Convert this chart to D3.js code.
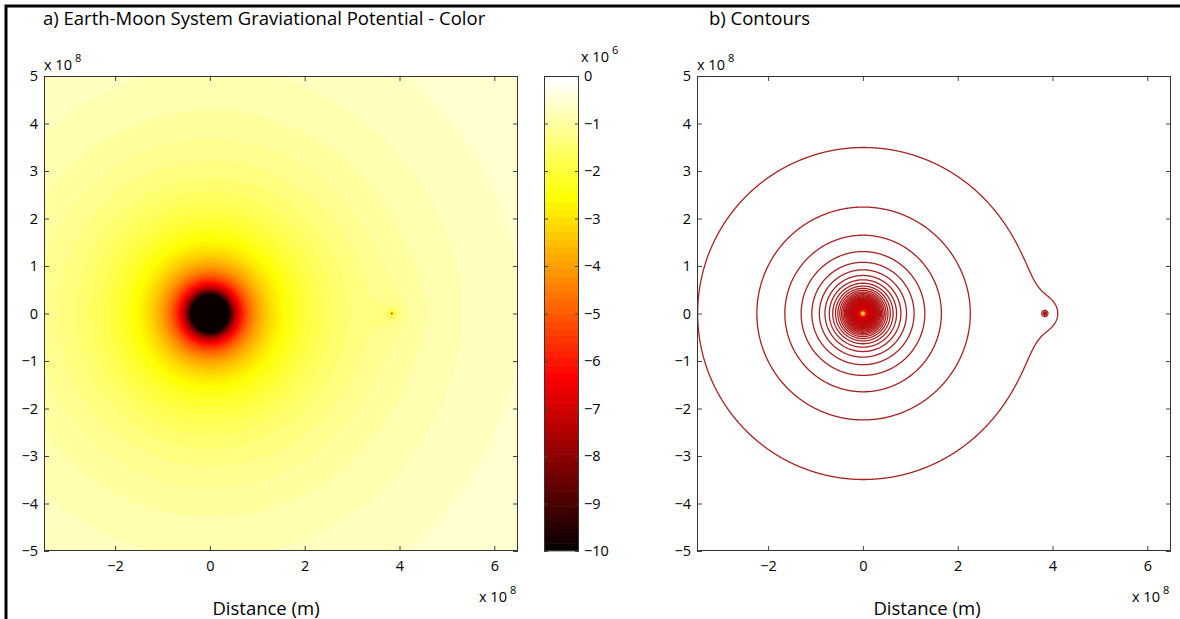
<!DOCTYPE html>
<html><head><meta charset="utf-8">
<script src="https://cdn.jsdelivr.net/npm/d3@7"></script>
<style>
html,body{margin:0;padding:0;background:#fff;}
svg{display:block;font-family:"Open Sans",sans-serif;}
</style></head><body>
<svg id="chart" width="1180" height="619"></svg>
<script>
// ---------------- data ----------------
const bodyNames = ["Earth", "Moon"];
const bodyX = [0, 3.84e8];            // m
const bodyY = [0, 0];                 // m
const bodyGM = [3.986e14, 4.90e12];   // m^3 s^-2
const xDomain = [-3.5e8, 6.5e8];
const yDomain = [-5e8, 5e8];
const xTickValues = [-2e8, 0, 2e8, 4e8, 6e8];
const xTickLabels = ["−2", "0", "2", "4", "6"];
const yTickValues = [5e8, 4e8, 3e8, 2e8, 1e8, 0, -1e8, -2e8, -3e8, -4e8, -5e8];
const yTickLabels = ["5", "4", "3", "2", "1", "0", "−1", "−2", "−3", "−4", "−5"];
const colorDomain = [-10e6, 0];
const cbTickValues = [0, -1e6, -2e6, -3e6, -4e6, -5e6, -6e6, -7e6, -8e6, -9e6, -10e6];
const cbTickLabels = ["0", "−1", "−2", "−3", "−4", "−5", "−6", "−7", "−8", "−9", "−10"];
// contour levels, units of 1e6 J/kg
const contourLevels = [
  -1.15, -1.79, -2.43, -3.07, -3.71, -4.35, -4.99, -5.63, -6.27, -6.91,
  -7.55, -8.19, -8.83, -9.47, -10.11, -10.75, -11.39, -12.03, -12.67, -13.31,
  -13.95, -14.59, -15.23, -15.87, -16.51, -17.15, -17.79, -18.43, -19.07, -19.71,
  -20.35, -20.99, -21.63, -22.27, -22.91, -23.55, -24.19, -24.83, -25.47, -26.11,
  -26.75, -27.39, -28.03, -28.67, -29.31, -29.95, -30.59, -31.23, -31.87, -32.51,
  -33.15, -33.79, -34.43, -35.07, -35.71, -36.35, -36.99, -37.63, -38.27, -38.91,
  -39.55, -40.19, -40.83, -41.47, -42.11, -42.75, -43.39, -44.03, -44.67, -45.31,
  -45.95, -46.59, -47.23, -47.87, -48.51, -49.15, -49.79, -50.43, -51.07, -51.71,
  -52.35, -52.99, -53.63, -54.27, -54.91, -55.55, -56.19, -56.83, -57.47, -58.11,
  -58.75, -59.39, -60.03
];
const coreLevels = [-70, -80, -90, -100, -120, -150, -200];
const titles = ["a) Earth-Moon System Graviational Potential - Color", "b) Contours"];
const xLabelText = "Distance (m)";
const axisExponent = "8";
const colorExponent = "6";

// ---------------- helpers ----------------
function potential(x, y) {
  let v = 0;
  for (let k = 0; k < bodyGM.length; k++) {
    const dx = x - bodyX[k], dy = y - bodyY[k];
    v -= bodyGM[k] / Math.sqrt(dx * dx + dy * dy);
  }
  return v;
}
// MATLAB hot(64)
const hot64 = d3.range(64).map(i => {
  const n1 = 24, n2 = 24, n3 = 16;
  const r = i < n1 ? (i + 1) / n1 : 1;
  const g = i < n1 ? 0 : (i < n1 + n2 ? (i - n1 + 1) / n2 : 1);
  const b = i < n1 + n2 ? 0 : (i - n1 - n2 + 1) / n3;
  return d3.rgb(Math.round(r * 255), Math.round(g * 255), Math.round(b * 255));
});
const colorQ = d3.scaleQuantize().domain(colorDomain).range(hot64);

const svg = d3.select("#chart");
const FONT = 14.5;
const BIG = 18.5;

// page frame (left + top black rule)
svg.append("path").attr("d", "M6,619V6H1180").attr("fill", "none")
  .attr("stroke", "#000").attr("stroke-width", 3);

function exponentLabel(g, x, y, exp) {
  const t = g.append("text").attr("x", x).attr("y", y).attr("font-size", FONT).attr("fill", "#000");
  t.append("tspan").text("x 10");
  t.append("tspan").attr("dx", 3).attr("dy", -8).attr("font-size", 11).text(exp);
  return t;
}

function drawAxes(p, xS, yS) {
  const g = svg.append("g");
  const tl = 5;
  g.append("g").attr("transform", `translate(0,${p.y + p.h})`)
    .call(d3.axisBottom(xS).tickValues(xTickValues).tickFormat((d, i) => xTickLabels[i]).tickSizeInner(-tl).tickSizeOuter(0).tickPadding(10));
  g.append("g").attr("transform", `translate(0,${p.y})`)
    .call(d3.axisTop(xS).tickValues(xTickValues).tickFormat("").tickSizeInner(-tl).tickSizeOuter(0));
  g.append("g").attr("transform", `translate(${p.x},0)`)
    .call(d3.axisLeft(yS).tickValues(yTickValues).tickFormat((d, i) => yTickLabels[i]).tickSizeInner(-tl).tickSizeOuter(0).tickPadding(6));
  g.append("g").attr("transform", `translate(${p.x + p.w},0)`)
    .call(d3.axisRight(yS).tickValues(yTickValues).tickFormat("").tickSizeInner(-tl).tickSizeOuter(0));
  g.selectAll(".domain").remove();
  g.selectAll(".tick line").attr("stroke", "#444");
  g.selectAll(".tick text").attr("font-size", FONT).attr("font-family", "Open Sans").attr("fill", "#000");
  g.append("rect").attr("x", p.x + 0.5).attr("y", p.y + 0.5).attr("width", p.w - 1).attr("height", p.h - 1)
    .attr("fill", "none").attr("stroke", "#333").attr("stroke-width", 1);
  svg.append("text").attr("x", p.titleX).attr("y", 25).attr("font-size", BIG).text(p.title);
  exponentLabel(svg, p.x, 70, axisExponent);
  exponentLabel(svg, p.x + p.w - 39, 602, axisExponent);
  svg.append("text").attr("x", p.labelX).attr("y", 615).attr("text-anchor", "middle")
    .attr("font-size", BIG).text(xLabelText);
}

const panels = [
  {x: 44, y: 76, w: 474, h: 475, title: titles[0], titleX: 43, labelX: 266},
  {x: 697, y: 76, w: 474, h: 475, title: titles[1], titleX: 709, labelX: 927}
];

// ---------------- panel a: colour image ----------------
{
  const p = panels[0];
  const xS = d3.scaleLinear().domain(xDomain).range([p.x, p.x + p.w]);
  const yS = d3.scaleLinear().domain(yDomain).range([p.y + p.h, p.y]);
  const cv = document.createElement("canvas");
  cv.width = p.w; cv.height = p.h;
  const ctx = cv.getContext("2d");
  const img = ctx.createImageData(p.w, p.h);
  for (let j = 0; j < p.h; j++) {
    const yv = yS.invert(p.y + j + 0.5);
    for (let i = 0; i < p.w; i++) {
      const xv = xS.invert(p.x + i + 0.5);
      const c = colorQ(potential(xv, yv));
      const o = (j * p.w + i) * 4;
      img.data[o] = c.r; img.data[o + 1] = c.g; img.data[o + 2] = c.b; img.data[o + 3] = 255;
    }
  }
  ctx.putImageData(img, 0, 0);
  svg.append("image").attr("x", p.x).attr("y", p.y).attr("width", p.w).attr("height", p.h)
    .attr("preserveAspectRatio", "none").attr("href", cv.toDataURL());
  drawAxes(p, xS, yS);

  // colour bar
  const cb = {x: 544, y: 76, w: 35, h: 475};
  const yC = d3.scaleLinear().domain(colorDomain).range([cb.y + cb.h, cb.y]);
  const step = (colorDomain[1] - colorDomain[0]) / hot64.length;
  svg.append("g").selectAll("rect").data(hot64).join("rect")
    .attr("x", cb.x).attr("width", cb.w)
    .attr("y", (c, i) => yC(colorDomain[0] + (i + 1) * step) - 0.3)
    .attr("height", (c, i) => yC(colorDomain[0] + i * step) - yC(colorDomain[0] + (i + 1) * step) + 0.6)
    .attr("fill", c => c);
  const gc = svg.append("g");
  gc.append("g").attr("transform", `translate(${cb.x + cb.w},0)`)
    .call(d3.axisRight(yC).tickValues(cbTickValues).tickFormat((d, i) => cbTickLabels[i]).tickSizeInner(-4).tickSizeOuter(0).tickPadding(5));
  gc.append("g").attr("transform", `translate(${cb.x},0)`)
    .call(d3.axisLeft(yC).tickValues(cbTickValues).tickFormat("").tickSizeInner(-4).tickSizeOuter(0));
  gc.selectAll(".domain").remove();
  gc.selectAll(".tick line").attr("stroke", "#444");
  gc.selectAll(".tick text").attr("font-size", FONT).attr("font-family", "Open Sans").attr("fill", "#000");
  gc.append("rect").attr("x", cb.x + 0.5).attr("y", cb.y + 0.5).attr("width", cb.w - 1).attr("height", cb.h - 1)
    .attr("fill", "none").attr("stroke", "#333");
  exponentLabel(svg, cb.x + cb.w + 2, 62, colorExponent);
}

// ---------------- panel b: contours ----------------
{
  const p = panels[1];
  const xS = d3.scaleLinear().domain(xDomain).range([p.x, p.x + p.w]);
  const yS = d3.scaleLinear().domain(yDomain).range([p.y + p.h, p.y]);
  const k = 1.5;
  const nx = Math.round(p.w * k), ny = Math.round(p.h * k);
  const gdx = (xDomain[1] - xDomain[0]) / nx, gdy = (yDomain[1] - yDomain[0]) / ny;
  const grid = new Float64Array(nx * ny);
  for (let j = 0; j < ny; j++) {
    const yv = yDomain[1] - (j + 0.5) * gdy;
    for (let i = 0; i < nx; i++) {
      grid[j * nx + i] = -potential(xDomain[0] + (i + 0.5) * gdx, yv) / 1e6;
    }
  }
  const levels = contourLevels.concat(coreLevels);
  const cont = d3.contours().size([nx, ny]).thresholds(levels.map(l => -l))(grid);
  const proj = d3.geoTransform({
    point(px, py) { this.stream.point(xS(xDomain[0] + px * gdx), yS(yDomain[1] - py * gdy)); }
  });
  const path = d3.geoPath(proj);
  const lineColor = d3.scaleLinear()
    .domain([-6, -14, -40, -80, -130, -200])
    .range(["#a82222", "#bb0c0c", "#d40000", "#f02000", "#ff8000", "#ffd040"])
    .clamp(true);
  svg.append("clipPath").attr("id", "clipB").append("rect")
    .attr("x", p.x).attr("y", p.y).attr("width", p.w).attr("height", p.h);
  svg.append("g").attr("clip-path", "url(#clipB)")
    .selectAll("path").data(cont).join("path")
    .attr("d", path)
    .attr("fill", "none")
    .attr("stroke", d => lineColor(-d.value))
    .attr("stroke-width", 1.3);
  drawAxes(p, xS, yS);
}
</script>
</body></html>
